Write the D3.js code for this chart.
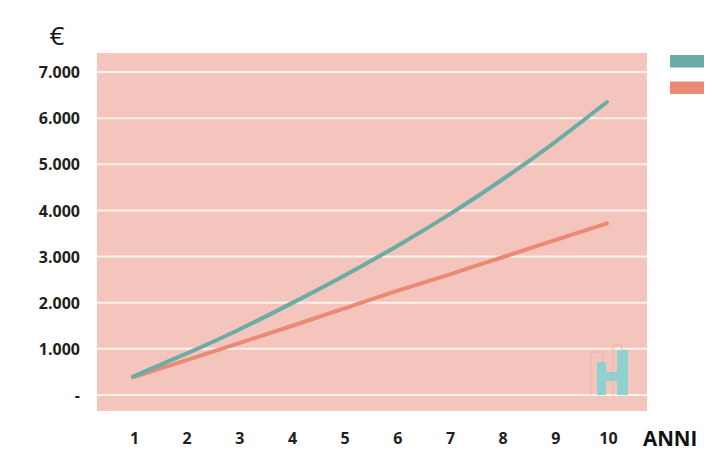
<!DOCTYPE html>
<html><head><meta charset="utf-8">
<script src="https://cdn.jsdelivr.net/npm/d3@7"></script>
<style>html,body{margin:0;padding:0;background:#fff;}svg{display:block;}</style>
</head><body>
<svg id="chart" width="712" height="471"></svg>
<script>
const years = [1,2,3,4,5,6,7,8,9,10];
const seriesTeal = [400, 890, 1410, 1980, 2580, 3220, 3910, 4660, 5470, 6350];
const seriesOrange = [380, 750, 1120, 1490, 1870, 2250, 2610, 2980, 3350, 3720];
const yTicks = [0,1000,2000,3000,4000,5000,6000,7000];
const yTickLabels = ["-","1.000","2.000","3.000","4.000","5.000","6.000","7.000"];
const colors = {teal:"#6aaca6", orange:"#ea8a74", bg:"#f4c5bc", text:"#231f20"};

const svg = d3.select("#chart");
const plot = {left:97, right:647, top:53, bottom:411};
const x = d3.scaleLinear().domain([1,10]).range([133,607]);
const y = d3.scaleLinear().domain([0,7000]).range([395,72]);

svg.append("rect").attr("x",plot.left).attr("y",plot.top)
  .attr("width",plot.right-plot.left).attr("height",plot.bottom-plot.top)
  .attr("fill",colors.bg);

svg.append("g").selectAll("line").data(yTicks).join("line")
  .attr("x1",plot.left).attr("x2",plot.right)
  .attr("y1",d=>y(d)).attr("y2",d=>y(d))
  .attr("stroke","#fdf1ec").attr("stroke-width",2);

const yAxis = d3.axisLeft(y).tickValues(yTicks).tickSize(0).tickPadding(0)
  .tickFormat((d,i)=>yTickLabels[i]);
const gy = svg.append("g").attr("transform","translate(80,0)").call(yAxis);
gy.select(".domain").remove();
gy.selectAll("text").attr("font-family","Open Sans").attr("font-weight","bold")
  .attr("font-size",16).attr("fill",colors.text).attr("dy","0.35em");

const xAxis = d3.axisBottom(x).tickValues(years).tickSize(0).tickPadding(0)
  .tickFormat(d3.format("d"));
const gx = svg.append("g").attr("transform","translate(1,438)").call(xAxis);
gx.select(".domain").remove();
gx.selectAll("text").attr("font-family","Open Sans").attr("font-weight","bold")
  .attr("font-size",16).attr("fill",colors.text).attr("dy","0.35em");

svg.append("text").attr("x",643).attr("y",445.5).text("ANNI")
  .attr("font-family","Open Sans").attr("font-weight","bold").attr("font-size",20.5)
  .attr("fill","#111");
svg.append("text").attr("x",57).attr("y",45).attr("text-anchor","middle").text("€")
  .attr("font-family","Open Sans").attr("font-size",26).attr("fill","#111");

const logo = svg.append("g");
logo.append("path").attr("d","M591,395 V352 H603 V395 M613,395 V345 H622 V352")
  .attr("fill","none").attr("stroke","#e6b3a8").attr("stroke-width",1);
logo.append("rect").attr("x",597).attr("y",362).attr("width",9).attr("height",33).attr("fill","#8fd1cf");
logo.append("rect").attr("x",617).attr("y",350).attr("width",11).attr("height",45).attr("fill","#8fd1cf");
logo.append("rect").attr("x",605).attr("y",372).attr("width",13).attr("height",9).attr("fill","#8fd1cf");

const line = d3.line().x((d,i)=>x(years[i])).y(d=>y(d)).curve(d3.curveNatural);
svg.append("path").datum(seriesOrange).attr("d",line).attr("fill","none")
  .attr("stroke",colors.orange).attr("stroke-width",4).attr("stroke-linecap","round");
svg.append("path").datum(seriesTeal).attr("d",line).attr("fill","none")
  .attr("stroke",colors.teal).attr("stroke-width",4).attr("stroke-linecap","round");

const legend = [colors.teal, colors.orange];
svg.append("g").selectAll("rect").data(legend).join("rect")
  .attr("x",670).attr("y",(d,i)=>55+i*26.5).attr("width",34).attr("height",12.5)
  .attr("fill",d=>d);
</script>
</body></html>
